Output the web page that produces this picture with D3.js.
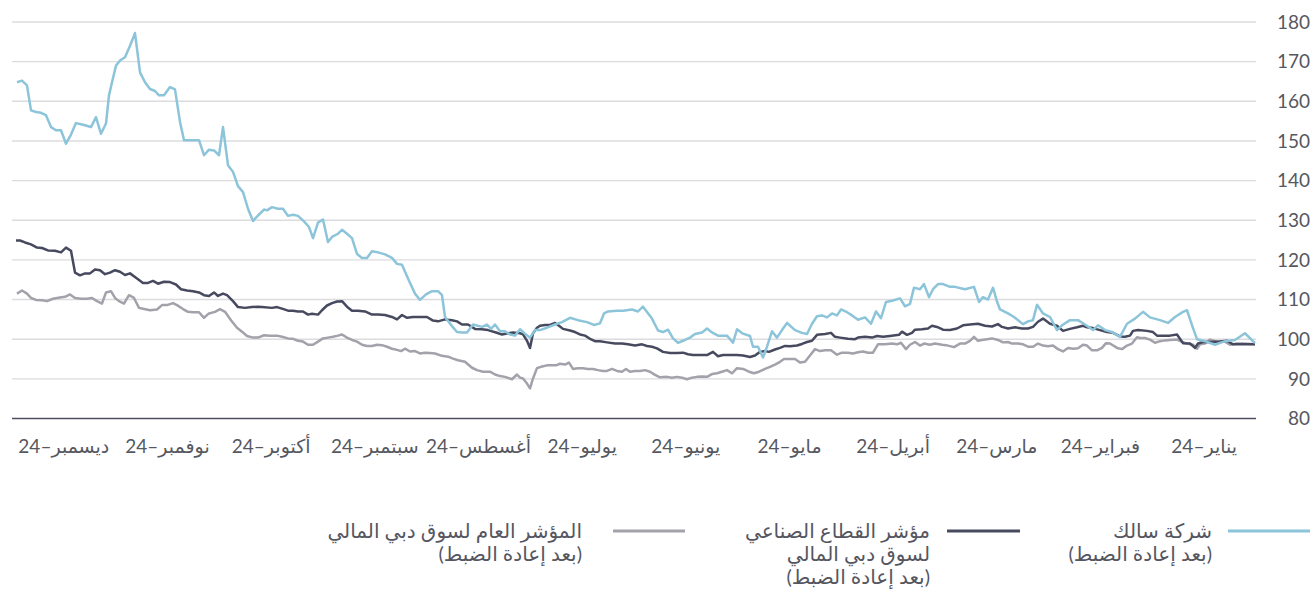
<!DOCTYPE html>
<html>
<head>
<meta charset="utf-8">
<script src="https://cdn.jsdelivr.net/npm/d3@7"></script>
<style>
body { margin: 0; background: #fff; }
text { font-family: Lato, "DejaVu Sans", sans-serif; }
</style>
</head>
<body>
<div id="vizDiv"></div>
<script>
var width = 1313;
var height = 590;

// month labels, january first (drawn right to left)
var months = ["يناير–24", "فبراير–24", "مارس–24", "أبريل–24", "مايو–24", "يونيو–24",
              "يوليو–24", "أغسطس–24", "سبتمبر–24", "أكتوبر–24", "نوفمبر–24", "ديسمبر–24"];

var yTicks = [80, 90, 100, 110, 120, 130, 140, 150, 160, 170, 180];

// [trading session, rebased value]
var salik = [[0.2,99.0],[2.2,101.5],[4.2,99.8],[6.2,99.5],[8.2,98.6],[10.2,99.5],[11.8,100.0],[12.6,102.8],
  [13.8,107.3],[14.6,106.9],[16.2,105.6],[17.6,104.1],[19.2,104.8],[21.2,105.5],[22.6,106.9],[24.2,105.2],
  [25.8,103.9],[27.2,100.6],[28.8,101.8],[30.2,102.3],[31.6,103.5],[32.6,102.3],[34.2,103.7],[35.6,104.8],
  [37.2,104.8],[38.8,103.5],[39.8,102.3],[41.2,105.6],[42.6,106.5],[43.8,108.7],[44.6,104.8],[45.6,104.5],
  [46.6,103.8],[48.4,105.6],[49.6,106.5],[51.2,107.5],[51.8,109.5],[52.6,113.0],[53.6,110.0],[54.6,110.6],
  [55.4,109.4],[56.4,113.2],[58.2,112.6],[60.2,113.2],[61.2,113.2],[62.6,113.9],[63.6,113.9],[64.6,112.6],
  [65.4,110.6],[66.4,113.9],[67.2,112.6],[68.4,113.0],[69.2,108.9],[70.2,108.3],[71.2,110.3],[72.8,109.7],
  [74.0,109.4],[75.0,105.3],[76.0,107.0],[77.0,103.9],[78.2,105.5],[79.6,104.9],[80.8,106.0],[81.8,106.8],
  [83.0,107.5],[83.8,106.0],[84.8,106.5],[85.8,105.5],[86.8,106.0],[87.8,105.8],[88.8,103.9],[89.8,101.3],
  [90.8,101.6],[92.2,102.3],[93.8,104.1],[94.8,102.3],[95.8,100.4],[96.8,102.0],[97.8,98.1],[98.6,95.4],
  [99.6,98.1],[100.6,98.1],[101.2,100.8],[102.6,101.4],[103.8,102.5],[104.6,99.1],[105.8,100.9],[107.6,100.9],
  [108.8,101.7],[109.8,102.7],[110.8,101.7],[112.2,101.3],[113.2,100.4],[114.2,99.8],[115.6,99.1],[116.6,100.2],
  [117.6,102.4],[118.6,101.8],[119.6,102.2],[120.8,105.2],[122.6,108.2],[123.6,107.0],[124.8,107.5],[126.6,107.2],
  [127.8,107.2],[129.6,107.0],[130.4,106.5],[131.2,104.0],[132.4,103.6],[133.8,104.3],[135.6,104.8],[137.2,105.4],
  [138.8,104.3],[140.2,103.7],[141.8,102.9],[143.2,102.3],[144.2,102.3],[145.2,100.4],[146.2,101.4],[147.2,102.5],
  [148.2,100.9],[149.2,101.2],[150.2,102.0],[151.2,102.0],[152.2,103.7],[153.0,102.6],[153.8,103.7],[154.8,103.1],
  [156.6,103.7],[157.8,101.7],[158.8,101.7],[159.8,101.8],[160.8,103.3],[162.2,105.6],[162.8,111.1],[163.6,112.1],
  [164.8,112.1],[166.0,111.3],[167.2,109.9],[168.2,111.5],[169.6,115.3],[170.8,118.8],[171.8,119.0],[172.8,120.5],
  [174.2,121.4],[175.6,121.9],[176.8,122.2],[177.8,120.5],[178.8,120.5],[179.8,121.5],[180.8,125.5],[181.8,126.6],
  [182.8,127.6],[183.6,126.6],[184.8,125.8],[185.6,124.5],[186.6,130.2],[187.6,129.4],[188.6,125.5],[189.4,128.3],
  [190.4,129.7],[191.6,131.1],[192.6,131.4],[193.6,131.1],[194.6,132.9],[195.6,132.9],[196.8,133.3],[197.8,132.5],
  [198.4,132.7],[199.6,131.2],[200.6,129.8],[201.6,132.9],[202.6,137.1],[203.6,138.6],[204.6,142.2],[205.6,143.9],
  [206.6,153.5],[207.4,146.4],[208.4,147.6],[209.4,147.8],[210.4,146.4],[211.4,150.2],[212.8,150.2],[214.4,150.2],
  [215.2,154.8],[216.2,163.0],[217.2,163.6],[218.4,161.5],[219.4,161.5],[220.2,162.6],[221.2,163.1],[222.2,164.8],
  [223.2,167.3],[224.2,177.2],[225.2,174.0],[226.2,171.1],[227.2,170.3],[228.0,169.0],[228.8,164.8],[229.4,161.5],
  [230.0,154.4],[231.0,151.8],[232.0,156.0],[233.0,153.5],[234.6,154.1],[236.0,154.5],[237.0,151.6],[238.0,149.3],
  [239.0,152.7],[240.0,152.7],[241.0,153.5],[242.0,156.5],[243.0,157.1],[244.0,157.3],[245.0,157.7],[245.8,164.0],
  [246.8,165.2],[247.8,164.8]];

var industrial = [[0.2,98.7],[2.6,98.7],[4.6,98.7],[5.8,99.6],[7.2,99.4],[9.2,99.3],[10.6,99.3],[11.6,98.9],
  [12.2,97.8],[13.2,98.9],[14.6,99.0],[15.8,101.2],[17.2,100.9],[18.6,100.9],[19.8,100.9],[20.6,101.8],
  [21.8,102.1],[23.6,102.3],[24.6,102.1],[25.2,100.9],[26.2,100.6],[27.2,100.7],[28.6,101.6],[29.8,101.8],
  [31.2,102.3],[32.6,102.8],[33.8,103.0],[34.6,103.4],[35.8,103.0],[37.2,102.6],[38.6,102.1],[39.8,103.4],
  [41.2,103.9],[42.6,105.2],[43.6,104.4],[44.6,103.1],[45.6,102.7],[46.8,102.7],[48.2,103.0],[49.6,102.7],
  [50.8,103.1],[51.6,103.8],[52.8,103.2],[54.2,103.4],[55.6,103.9],[57.2,103.7],[58.6,103.5],[59.8,102.7],
  [61.2,102.3],[62.6,102.4],[63.8,103.1],[64.8,103.4],[65.6,102.7],[66.8,102.5],[68.2,102.4],[68.8,101.6],
  [69.8,101.1],[70.8,101.9],[71.4,101.1],[73.2,100.8],[74.6,100.6],[75.8,100.8],[76.8,100.4],[78.2,100.6],
  [79.6,100.4],[80.2,100.0],[81.6,100.1],[83.2,100.4],[84.2,100.6],[85.0,101.6],[86.2,101.3],[87.8,101.1],
  [88.8,99.6],[89.8,99.3],[90.8,98.8],[91.8,98.4],[93.2,98.2],[94.2,98.3],[95.2,97.8],[96.2,97.4],
  [97.4,96.8],[98.2,97.0],[99.2,96.8],[100.2,95.9],[101.2,95.5],[102.6,95.9],[103.8,96.0],[105.2,96.0],
  [106.6,96.0],[107.6,95.7],[108.6,96.8],[109.8,96.0],[111.2,96.0],[112.6,96.0],[113.6,96.2],[114.6,96.6],
  [115.8,96.5],[117.2,96.5],[118.6,96.8],[119.8,97.7],[120.8,98.1],[121.8,98.3],[122.8,98.7],[124.2,98.4],
  [125.6,98.7],[126.8,98.9],[128.2,98.9],[129.8,99.2],[131.2,99.5],[132.2,99.5],[133.2,100.1],[134.2,100.9],
  [135.2,101.2],[136.2,101.8],[137.2,102.2],[138.6,102.6],[139.4,103.4],[140.2,104.1],[141.2,103.6],[142.2,103.6],
  [143.2,103.4],[143.8,102.9],[144.6,101.5],[145.2,97.8],[145.8,99.6],[146.6,101.2],[147.2,101.5],[148.6,101.7],
  [149.6,101.5],[150.8,101.2],[152.0,101.7],[153.6,102.3],[154.8,102.5],[156.2,102.6],[157.6,103.7],[158.8,103.7],
  [159.8,104.5],[160.8,104.8],[162.2,105.0],[163.6,104.5],[164.6,104.7],[165.8,105.6],[167.2,105.6],[168.6,105.6],
  [169.8,105.4],[170.8,106.1],[171.8,105.0],[172.8,105.6],[174.2,106.1],[175.6,106.2],[176.8,106.2],[178.2,107.0],
  [179.6,107.2],[180.8,107.2],[181.8,108.2],[182.8,109.6],[183.8,109.5],[184.8,109.1],[185.8,108.5],[186.8,107.3],
  [187.6,106.2],[188.8,106.4],[189.6,106.2],[190.6,107.0],[191.6,107.0],[192.6,107.2],[193.6,107.2],[194.8,107.7],
  [195.8,108.1],[196.8,107.9],[198.8,108.1],[199.6,108.2],[200.8,108.1],[202.2,107.9],[203.6,108.1],[204.6,109.6],
  [205.8,111.1],[206.6,111.5],[207.6,110.9],[208.4,111.8],[209.4,110.9],[210.4,111.1],[211.4,111.8],[212.6,112.1],
  [213.8,112.3],[215.0,112.6],[216.0,113.8],[217.2,114.4],[218.4,114.5],[219.6,114.0],[220.6,114.7],[221.6,114.2],
  [222.6,114.2],[223.8,115.3],[225.2,116.6],[226.2,116.2],[227.2,117.0],[228.2,117.4],[229.2,116.8],[230.2,116.4],
  [231.2,117.4],[232.2,117.6],[233.2,116.6],[234.2,116.6],[235.2,116.1],[236.2,116.8],[237.0,122.3],[238.0,123.1],
  [239.0,121.9],[240.2,122.3],[241.6,122.4],[242.8,123.0],[243.8,123.1],[245.0,123.9],[246.2,124.4],[247.2,124.9],
  [248.0,124.9]];

var general = [[0.2,98.7],[2.6,98.9],[3.8,98.9],[5.2,98.6],[6.2,99.4],[7.8,99.4],[9.2,99.9],[10.2,98.9],
  [11.2,98.7],[11.8,97.6],[12.6,98.6],[13.8,98.9],[14.8,99.3],[15.8,99.9],[17.2,99.8],[18.2,99.7],
  [19.2,99.5],[20.2,99.1],[21.2,99.9],[22.2,100.3],[23.2,100.3],[23.8,100.5],[24.8,98.9],[25.8,98.4],
  [26.8,97.5],[27.8,97.8],[29.2,98.9],[30.0,99.0],[30.8,97.8],[31.8,97.2],[32.8,97.2],[33.8,98.4],
  [34.6,98.6],[35.6,97.7],[36.6,97.6],[37.6,97.8],[38.6,96.9],[39.6,97.5],[40.6,98.4],[41.6,98.2],
  [42.6,98.4],[43.6,98.9],[44.6,98.1],[45.6,98.1],[46.6,98.7],[47.6,98.9],[48.8,98.9],[49.6,99.3],
  [50.6,99.2],[51.6,99.8],[52.8,100.2],[53.8,100.0],[54.8,99.8],[55.6,99.6],[56.4,100.6],[57.2,99.6],
  [58.2,98.9],[59.2,98.9],[60.4,98.0],[62.0,98.5],[62.8,98.6],[64.2,98.9],[65.2,98.6],[66.4,98.9],
  [67.2,98.4],[68.2,99.3],[69.2,98.6],[70.0,97.5],[71.0,99.1],[71.8,98.7],[72.8,98.9],[74.2,98.7],
  [75.6,98.7],[76.6,96.6],[77.6,96.6],[78.6,96.9],[79.6,96.7],[80.6,96.4],[81.6,96.6],[82.8,96.6],
  [83.8,96.1],[85.0,97.2],[86.2,97.2],[87.2,97.0],[88.2,97.5],[89.2,95.9],[90.2,94.3],[91.2,94.1],
  [92.2,95.0],[93.2,95.0],[94.4,95.0],[95.2,94.3],[96.2,93.6],[97.2,93.0],[98.2,92.5],[99.4,91.8],
  [100.4,91.4],[101.4,91.8],[102.6,92.5],[103.8,92.7],[104.8,91.4],[105.8,92.2],[106.8,91.8],[107.8,91.4],
  [108.8,91.2],[109.8,90.5],[110.8,90.6],[111.8,90.5],[112.8,90.3],[113.8,89.9],[114.8,90.3],[115.8,90.5],
  [116.8,90.3],[117.8,90.5],[119.2,90.4],[120.2,91.0],[121.2,91.8],[122.2,92.2],[123.2,92.0],[124.2,92.0],
  [125.2,91.8],[126.0,92.5],[126.8,91.8],[127.8,92.0],[128.8,92.5],[129.8,92.0],[130.6,92.0],[131.6,92.2],
  [132.6,92.5],[133.6,92.5],[134.6,92.7],[135.6,92.7],[136.6,92.5],[137.4,94.1],[138.2,93.6],[139.2,93.8],
  [140.0,93.4],[140.8,93.4],[141.8,93.4],[142.8,93.1],[143.8,92.7],[144.6,90.1],[145.2,87.6],[145.8,88.8],
  [146.6,90.1],[147.2,90.3],[147.8,91.1],[148.8,89.9],[150.2,90.5],[151.2,90.7],[152.2,91.1],[153.2,91.8],
  [154.6,91.8],[155.8,92.2],[156.8,92.8],[158.2,94.3],[159.6,94.7],[160.6,95.1],[161.6,95.6],[162.8,95.8],
  [164.2,96.4],[165.2,96.5],[166.2,96.6],[167.2,96.4],[168.2,97.0],[169.2,96.9],[170.2,97.6],[171.0,97.0],
  [171.8,97.3],[172.8,97.6],[173.8,98.1],[174.8,98.5],[175.8,98.6],[176.8,98.3],[177.8,98.3],[178.8,98.6],
  [179.8,99.4],[180.8,99.8],[181.8,100.4],[182.8,101.2],[183.6,100.9],[184.6,100.6],[185.6,100.4],[186.6,100.2],
  [187.6,99.4],[188.6,98.6],[189.6,98.6],[190.6,99.4],[191.6,99.6],[192.6,100.1],[193.6,100.2],[194.8,100.6],
  [195.8,100.9],[197.2,100.9],[198.4,101.0],[199.6,100.4],[200.6,100.4],[201.8,100.8],[202.8,101.9],[203.8,102.9],
  [205.0,104.8],[206.2,106.9],[207.2,107.6],[208.2,106.9],[209.4,106.5],[210.4,105.4],[211.4,106.8],[212.6,106.8],
  [213.6,106.9],[214.6,107.6],[215.8,108.6],[216.6,109.1],[217.8,108.6],[218.8,108.6],[219.8,107.5],[221.2,107.3],
  [222.6,107.7],[223.4,107.9],[224.4,110.4],[225.4,111.1],[226.4,109.0],[227.4,109.6],[228.2,110.4],[229.0,112.1],
  [230.0,111.8],[230.8,109.0],[231.8,109.6],[232.8,110.4],[233.8,110.2],[235.0,110.2],[236.2,110.4],[237.2,111.3],
  [238.2,110.7],[239.2,110.5],[240.6,110.2],[241.8,109.6],[242.8,109.8],[244.0,109.9],[245.0,110.4],[245.8,111.5],
  [246.8,112.3],[247.8,111.5]];

var sessions = 248.8;

var legendLabels = [
  ["شركة سالك", "(بعد إعادة الضبط)"],
  ["مؤشر القطاع الصناعي", "لسوق دبي المالي", "(بعد إعادة الضبط)"],
  ["المؤشر العام لسوق دبي المالي", "(بعد إعادة الضبط)"]
];

var colors = ["#8cc4da", "#474a5e", "#a3a1aa"];

var plotLeft = 12, plotRight = 1256, plotTop = 22, plotBottom = 418.5;

var svg = d3.select("#vizDiv")
  .append("svg")
  .attr("width", width)
  .attr("height", height);

// time runs right to left
var x = d3.scaleLinear().domain([0, sessions]).range([plotRight, plotLeft]);
var y = d3.scaleLinear().domain([80, 180]).range([plotBottom, plotTop]);
var monthBand = d3.scaleBand().domain(months).range([plotRight, plotLeft]);

// gridlines
svg.append("g")
  .selectAll("line")
  .data(yTicks.filter(function(d) { return d > 80; }))
  .enter().append("line")
  .attr("x1", plotLeft)
  .attr("x2", plotRight)
  .attr("y1", function(d) { return y(d); })
  .attr("y2", function(d) { return y(d); })
  .attr("stroke", "#dcdcdf")
  .attr("stroke-width", 1.4);

// baseline
svg.append("line")
  .attr("x1", plotLeft)
  .attr("x2", plotRight)
  .attr("y1", y(80))
  .attr("y2", y(80))
  .attr("stroke", "#4d4e62")
  .attr("stroke-width", 1.3);

// y tick labels on the right
svg.append("g")
  .selectAll("text")
  .data(yTicks)
  .enter().append("text")
  .attr("x", 1310)
  .attr("y", function(d) { return y(d); })
  .attr("dy", "0.36em")
  .attr("text-anchor", "end")
  .attr("fill", "#56585f")
  .style("font-size", "19px")
  .text(function(d) { return d; });

// month labels
svg.append("g")
  .selectAll("text")
  .data(months)
  .enter().append("text")
  .attr("x", function(d) { return monthBand(d) + monthBand.bandwidth() / 2; })
  .attr("y", 446)
  .attr("dy", "0.35em")
  .attr("text-anchor", "middle")
  .attr("fill", "#56585f")
  .style("font-size", "19px")
  .text(function(d) { return d; });

var line = d3.line()
  .x(function(d) { return x(d[0]); })
  .y(function(d) { return y(d[1]); });

var series = [general, industrial, salik];
var seriesColors = [colors[2], colors[1], colors[0]];

for (var i = 0; i < series.length; i++) {
  svg.append("path")
    .attr("d", line(series[i]))
    .attr("fill", "none")
    .attr("stroke", seriesColors[i])
    .attr("stroke-width", 2.5)
    .attr("stroke-linejoin", "round");
}

// legend
var legendLineX = [[1228, 1310], [947, 1020], [613, 685]];
var legendTextX = [1212, 930, 582];
var legendY = 531;

for (var j = 0; j < legendLabels.length; j++) {
  svg.append("line")
    .attr("x1", legendLineX[j][0])
    .attr("x2", legendLineX[j][1])
    .attr("y1", legendY)
    .attr("y2", legendY)
    .attr("stroke", colors[j])
    .attr("stroke-width", 3);

  var t = svg.append("text")
    .attr("x", legendTextX[j])
    .attr("y", legendY)
    .attr("direction", "rtl")
    .attr("text-anchor", "start")
    .attr("fill", "#55565f")
    .style("font-size", "20px");

  legendLabels[j].forEach(function(s, k) {
    t.append("tspan")
      .attr("x", legendTextX[j])
      .attr("y", legendY + k * 23)
      .attr("dy", "0.35em")
      .text(s);
  });
}
</script>
</body>
</html>
